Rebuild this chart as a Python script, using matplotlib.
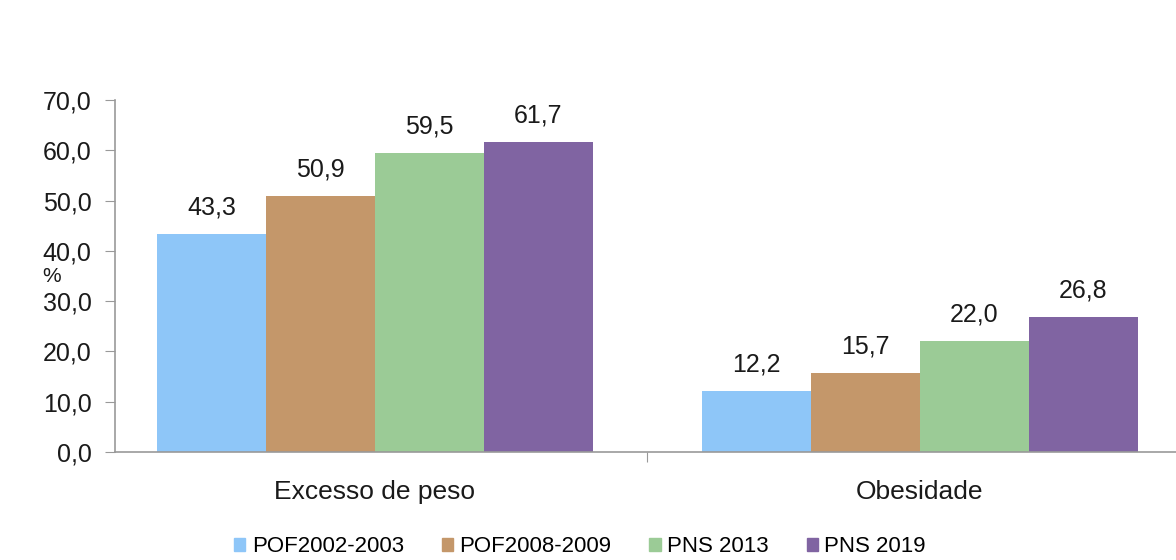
import matplotlib
matplotlib.use("Agg")
import matplotlib.pyplot as plt
import numpy as np

categories = ["Excesso de peso", "Obesidade"]
series = ["POF2002-2003", "POF2008-2009", "PNS 2013", "PNS 2019"]
pof2002 = [43.3, 12.2]
pof2008 = [50.9, 15.7]
pns2013 = [59.5, 22.0]
pns2019 = [61.7, 26.8]
values = [pof2002, pof2008, pns2013, pns2019]
colors = ["#8EC6F8", "#C4976A", "#9BCB96", "#8064A2"]
yticks = [0, 10, 20, 30, 40, 50, 60, 70]

plt.rcParams['font.family'] = ['Liberation Sans', 'DejaVu Sans']

fig = plt.figure(figsize=(11.76, 5.6), dpi=100)
ax = fig.add_axes([115/1176, 108/560, 1 - 115/1176, (452-100)/560])

x = np.arange(len(categories))
w = 0.2
for i, (name, vals, c) in enumerate(zip(series, values, colors)):
    pos = x + (i - 1.5) * w
    ax.bar(pos, vals, width=w, color=c, label=name, edgecolor='none')
    for xp, v in zip(pos, vals):
        ax.text(xp, v + 3.9, f"{v:.1f}".replace('.', ','), ha='center', va='baseline',
                fontsize=18, color='#1a1a1a')

ax.set_xlim(-0.477, 1.47)
ax.set_ylim(0, 70)
ax.set_yticks(yticks)
ax.set_yticklabels([f"{t:.1f}".replace('.', ',') for t in yticks], fontsize=18, color='#1a1a1a')
ax.set_xticks([0.5])
ax.set_xticklabels([''])
ax.tick_params(axis='x', length=7, color='#999999')
ax.tick_params(axis='y', length=7, color='#999999', pad=10)
for xc, lab in zip(x, categories):
    ax.text(xc, -7.9, lab, ha='center', va='center', fontsize=19, color='#1a1a1a',
            transform=ax.transData)
ax.spines['top'].set_visible(False)
ax.spines['right'].set_visible(False)
ax.spines['left'].set_color('#999999')
ax.spines['bottom'].set_color('#999999')
ax.spines['left'].set_linewidth(1.2)
ax.spines['bottom'].set_linewidth(1.2)

fig.text(52/1176, 1 - 277/560, "%", ha='center', va='center', fontsize=15, color='#1a1a1a')

handles = [plt.Rectangle((0, 0), 1, 1, color=c) for c in colors]
fig.legend(handles, series, loc='center', bbox_to_anchor=(580/1176, 1 - 547/560), ncol=4,
           frameon=False, fontsize=16, handlelength=0.5, handleheight=0.5,
           handletextpad=0.3, columnspacing=1.7)

fig.savefig("out.png", dpi=100, facecolor='white')
